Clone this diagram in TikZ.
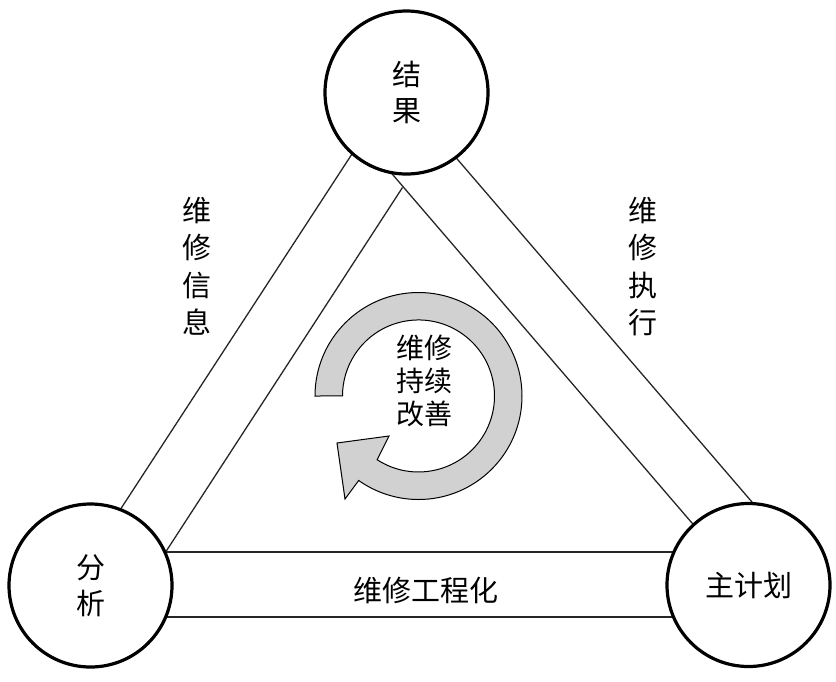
\documentclass[tikz,border=0pt]{standalone}
\usepackage{fontspec}
\newfontfamily\cjk{Noto Sans CJK SC}
\begin{document}
\begin{tikzpicture}[x=1pt,y=-1pt,
  band/.style={line width=1.3pt, draw=black!85},
  hub/.style={circle, draw, line width=3.2pt, fill=white, minimum size=163pt, inner sep=0pt, align=center, font=\cjk\fontsize{29}{36}\selectfont},
  lbl/.style={align=center, inner sep=0pt, font=\cjk\fontsize{29}{37.5}\selectfont},
  midlbl/.style={align=center, inner sep=0pt, font=\cjk\fontsize{28}{33}\selectfont},
  ring/.style={fill=black!18, draw=black, line width=1pt}]
\useasboundingbox (0,0) rectangle (836,681);
% band lines
\coordinate (olA) at (355.5,148.6);
\coordinate (olB) at (116.5,515.4);
\coordinate (apex) at (402.5,187.5);
\coordinate (ilB) at (161.5,558.4);
\coordinate (irA) at (386.5,167.4);
\coordinate (irB) at (698.5,530.6);
\coordinate (orA) at (451.5,152.4);
\coordinate (orB) at (758.5,509.6);
\coordinate (btA) at (160,552);
\coordinate (btB) at (680,552);
\coordinate (bbA) at (160,617);
\coordinate (bbB) at (680,617);
\draw[band] (olA) -- (olB);
\draw[band] (apex) -- (ilB);
\draw[band] (irA) -- (irB);
\draw[band] (orA) -- (orB);
\draw[band] (btA) -- (btB);
\draw[band] (bbA) -- (bbB);
% circular arrow
\coordinate (rc) at (418.5,396);
\draw[ring] (315,396) arc[start angle=180, end angle=485.3, radius=103.5]
  -- (345,499) -- (337,443) -- (389,436) -- (377.1,459.7)
  arc[start angle=483, end angle=180, radius=76] -- cycle;
% hubs
\node[hub] (res) at (406.5,92.5) {结\\果};
\node[hub] (ana) at (90.5,585.5) {分\\析};
\node[hub] (plan) at (748.5,585) {主计划};
% labels
\node[lbl] (info) at (197,266) {维\\修\\信\\息};
\node[lbl] (exec) at (643,266.5) {维\\修\\执\\行};
\node[lbl] (eng) at (425.5,590) {维修工程化};
\node[midlbl] (cont) at (424.5,381) {维修\\持续\\改善};
\end{tikzpicture}
\end{document}
